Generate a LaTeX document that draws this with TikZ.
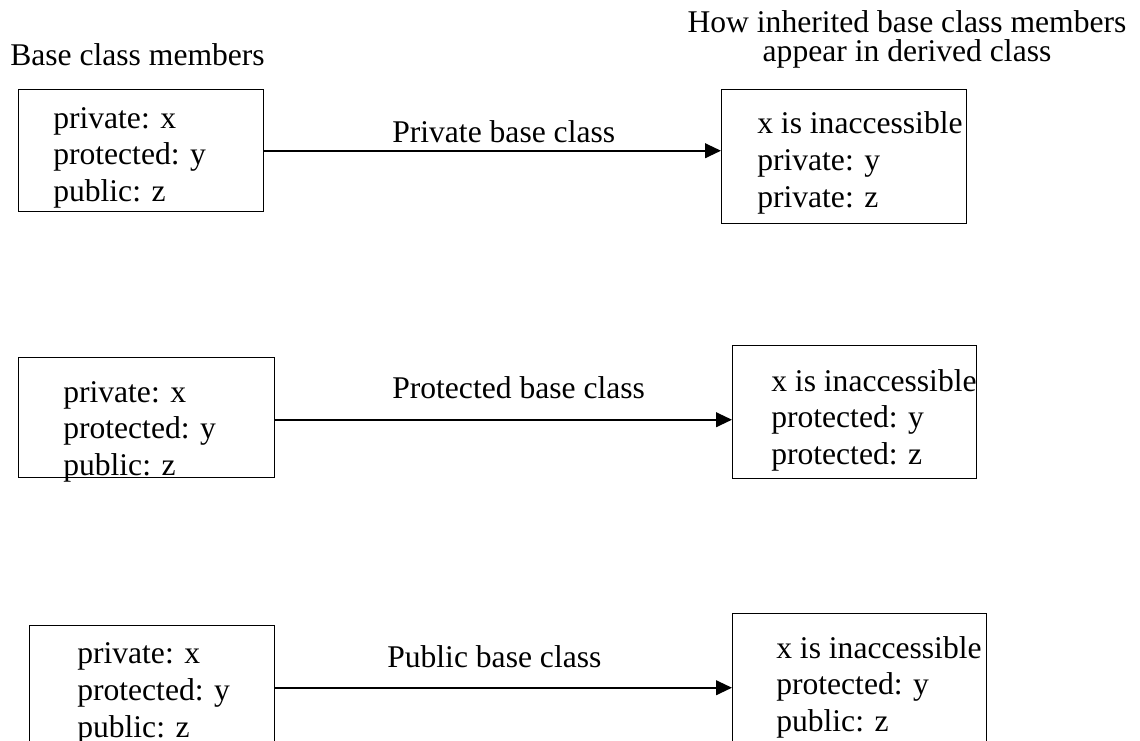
\documentclass[tikz,border=0pt]{standalone}
\usepackage{fontspec}
\setmainfont{Liberation Serif}
\usetikzlibrary{arrows.meta}
\begin{document}
\begin{tikzpicture}[x=0.75pt,y=-0.75pt,
  classbox/.style={draw, line width=1.1pt, inner sep=0pt, anchor=north west},
  member/.style={inner sep=0pt, anchor=base west, font=\fontsize{23.7}{28}\selectfont},
  heading/.style={inner sep=0pt, anchor=base, font=\fontsize{23.7}{28}\selectfont},
  link/.style={line width=1.5pt, -{Triangle[length=12pt,width=11pt]}}]
\useasboundingbox (0,0) rectangle (1140,740);
\clip (0,0) rectangle (1140,740);

% column headings
\node[member] (hbase) at (10,65) {Base class members};
\node[heading] (hder1) at (907,32) {How inherited base class members};
\node[heading] (hder2) at (907,61) {appear in derived class};

% private inheritance
\node[classbox, minimum width=245pt*0.75, minimum height=122pt*0.75] (b1) at (18,89) {};
\node[classbox, minimum width=245pt*0.75, minimum height=134pt*0.75] (d1) at (721,89) {};
\node[member] (b1a) at (53,128) {private: x};
\node[member] (b1b) at (53,164) {protected: y};
\node[member] (b1c) at (53,201) {public: z};
\node[member] (d1a) at (757,133) {x is inaccessible};
\node[member] (d1b) at (757,170) {private: y};
\node[member] (d1c) at (757,207) {private: z};
\draw[link] (b1.east) -- (b1.east -| d1.west);
\node[member] (l1) at (392,142) {Private base class};

% protected inheritance
\node[classbox, minimum width=256pt*0.75, minimum height=120pt*0.75] (b2) at (18,357) {};
\node[classbox, minimum width=244pt*0.75, minimum height=133pt*0.75] (d2) at (732,345) {};
\node[member] (b2a) at (63,402) {private: x};
\node[member] (b2b) at (63,438) {protected: y};
\node[member] (b2c) at (63,475) {public: z};
\node[member] (d2a) at (771,391) {x is inaccessible};
\node[member] (d2b) at (771,427) {protected: y};
\node[member] (d2c) at (771,464) {protected: z};
\draw[link] ([yshift=-2pt*0.75]b2.east) -- ([yshift=-2pt*0.75]b2.east -| d2.west);
\node[member] (l2) at (392,398) {Protected base class};

% public inheritance
\node[classbox, minimum width=245pt*0.75, minimum height=124pt*0.75] (b3) at (29,625) {};
\node[classbox, minimum width=254pt*0.75, minimum height=148pt*0.75] (d3) at (732,613) {};
\node[member] (b3a) at (77,663) {private: x};
\node[member] (b3b) at (77,700) {protected: y};
\node[member] (b3c) at (77,737) {public: z};
\node[member] (d3a) at (776,658) {x is inaccessible};
\node[member] (d3b) at (776,694) {protected: y};
\node[member] (d3c) at (776,731) {public: z};
\draw[link] (b3.east) -- (b3.east -| d3.west);
\node[member] (l3) at (387,667) {Public base class};
\end{tikzpicture}
\end{document}
